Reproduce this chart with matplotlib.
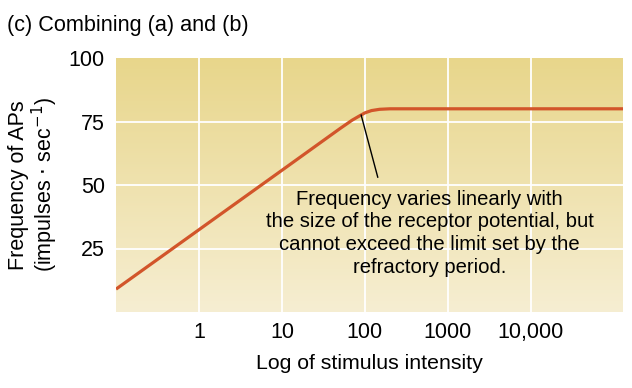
import numpy as np
import matplotlib
matplotlib.use('Agg')
import matplotlib.pyplot as plt
from matplotlib.colors import LinearSegmentedColormap

plt.rcParams['font.family'] = ['Liberation Sans', 'DejaVu Sans']

# curve (stimulus intensity, APs per sec)
intensity = [0.1, 1, 10, 50, 70, 85, 100, 120, 150, 200, 130000]
frequency = [9, 32.4, 55.8, 72.2, 75.5, 77.1, 78.4, 79.3, 79.8, 80, 80]

xticks = [1, 10, 100, 1000, 10000]
xticklabels = ['1', '10', '100', '1000', '10,000']
yticks = [25, 50, 75, 100]

note = ('Frequency varies linearly with\n'
        'the size of the receptor potential, but\n'
        'cannot exceed the limit set by the\n'
        'refractory period.')

fig = plt.figure(figsize=(6.32, 3.88), dpi=100)
rect = [116/632, 76/388, 507/632, 254/388]

# gradient background on its own axes
bg = fig.add_axes(rect, zorder=0)
cmap = LinearSegmentedColormap.from_list('bg', ['#f6eed2', '#e8d68b'])
grad = np.linspace(0, 1, 256).reshape(-1, 1)
bg.imshow(grad, cmap=cmap, aspect='auto', origin='lower', extent=[0, 1, 0, 1])
bg.set_axis_off()

ax = fig.add_axes(rect, zorder=1)
ax.patch.set_alpha(0)
ax.set_xscale('log')
ax.set_xlim(0.1, 1.29e5)
ax.set_ylim(0, 100)

for x in xticks:
    ax.axvline(x, color='white', lw=1.3, zorder=1)
for y in yticks[:-1]:
    ax.axhline(y, color='white', lw=1.3, zorder=1)

ax.plot(intensity, frequency, color='#d2552a', lw=2.3, zorder=3,
        solid_capstyle='butt')

ax.annotate('', xy=(90, 77.6), xytext=(143, 53),
            arrowprops=dict(arrowstyle='-', color='black', lw=1.0,
                            shrinkA=0, shrinkB=0), zorder=4)
ax.text(600, 31, note, ha='center', va='center', fontsize=14.6,
        linespacing=1.25, zorder=4)

ax.set_xticks(xticks)
ax.set_xticklabels(xticklabels)
ax.minorticks_off()
ax.set_yticks(yticks)
ax.tick_params(length=0, labelsize=15.5, pad=7)
ax.tick_params(axis='y', pad=8)
for s in ax.spines.values():
    s.set_visible(False)

ax.set_xlabel('Log of stimulus intensity', fontsize=15.3, labelpad=8)
ax.set_ylabel('Frequency of APs\n(impulses $\\cdot$ sec$^{-1}$)', fontsize=15.5,
              labelpad=6, linespacing=1.05)

fig.text(7/632, 1 - 25/388, '(c) Combining (a) and (b)', fontsize=15.6,
         va='center', ha='left')

fig.savefig('out.png', dpi=100)
